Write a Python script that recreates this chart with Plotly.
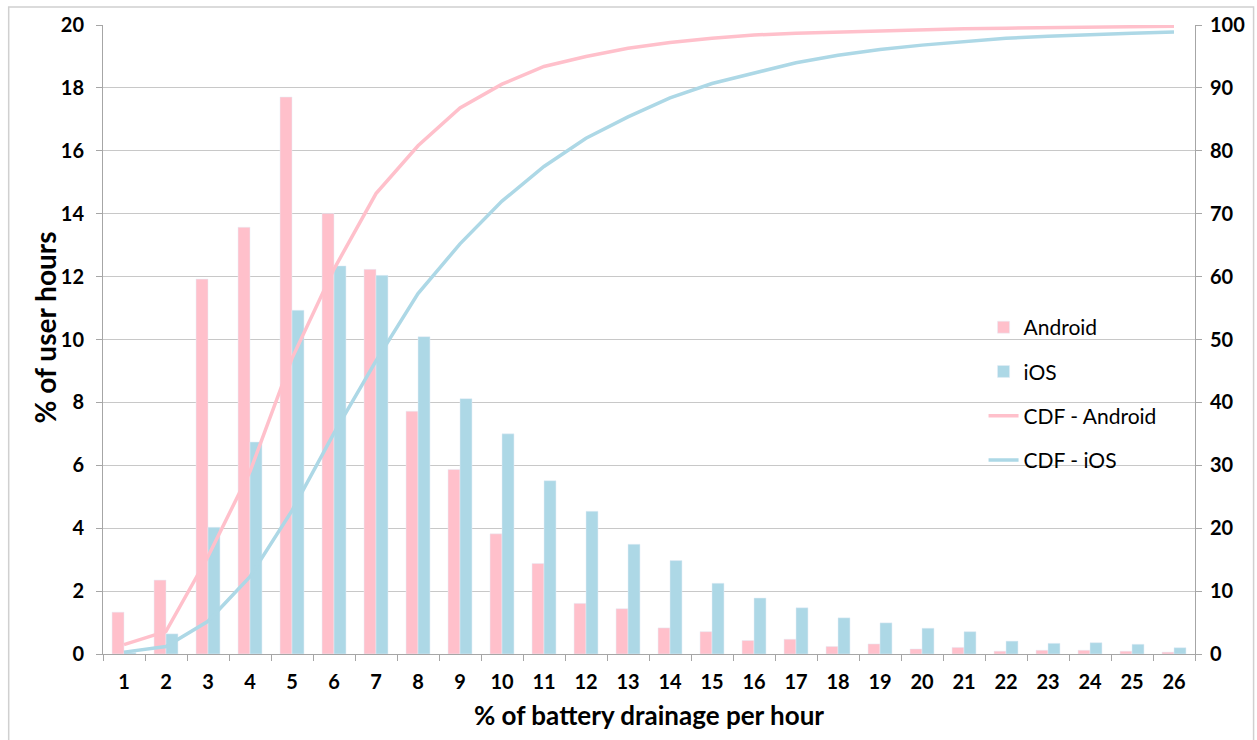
import plotly.graph_objects as go

categories = [str(i) for i in range(1, 27)]
android = [1.33, 2.35, 11.92, 13.57, 17.71, 14.01, 12.23, 7.72, 5.87, 3.82, 2.88, 1.61, 1.44,
           0.83, 0.71, 0.43, 0.47, 0.24, 0.32, 0.16, 0.21, 0.09, 0.12, 0.12, 0.09, 0.06]
ios = [0.05, 0.64, 4.03, 6.74, 10.93, 12.34, 12.04, 10.09, 8.12, 7.0, 5.51, 4.54, 3.49,
       2.97, 2.25, 1.78, 1.47, 1.15, 0.99, 0.82, 0.71, 0.41, 0.34, 0.36, 0.31, 0.20]
cdf_android = [1.5, 3.6, 15.5, 29.0, 47.0, 61.2, 73.2, 80.8, 86.8, 90.6, 93.4, 95.0, 96.3,
               97.2, 97.9, 98.4, 98.7, 98.9, 99.1, 99.2, 99.4, 99.5, 99.6, 99.7, 99.75, 99.8]
cdf_ios = [0.3, 1.2, 5.2, 12.3, 22.8, 35.1, 46.6, 57.3, 65.2, 72.0, 77.5, 82.0, 85.4,
           88.4, 90.7, 92.4, 94.0, 95.2, 96.1, 96.8, 97.4, 97.9, 98.2, 98.5, 98.7, 98.9]

PINK = "#FFC0CB"
BLUE = "#ADD8E6"
FONT = "Lato"

fig = go.Figure()
fig.add_trace(go.Bar(x=categories, y=android, name="Android", marker_color=PINK,
                     legendgroup="a"))
fig.add_trace(go.Bar(x=categories, y=ios, name="iOS", marker_color=BLUE,
                     legendgroup="b"))
fig.add_trace(go.Scatter(x=categories, y=cdf_android, name="CDF - Android", mode="lines",
                         line=dict(color=PINK, width=3.5), yaxis="y2", legendgroup="c"))
fig.add_trace(go.Scatter(x=categories, y=cdf_ios, name="CDF - iOS", mode="lines",
                         line=dict(color=BLUE, width=3.5), yaxis="y2", legendgroup="d"))

W, H = 1257, 740
L, R, T, B = 103, 1203, 25, 654

def px(x):
    return (x - L) / (R - L)

def py(y):
    return (B - y) / (B - T)

tickfont = dict(size=20, family=FONT, color="black", weight="bold")

fig.update_layout(
    width=W, height=H,
    margin=dict(l=L, r=W - R, t=T, b=H - B),
    paper_bgcolor="white", plot_bgcolor="white",
    font=dict(family=FONT, color="black"),
    barmode="group", bargap=0.43, bargroupgap=0,
    showlegend=True,
    legend=dict(x=px(990), y=py(307), xanchor="left", yanchor="top",
                font=dict(size=21, family=FONT, color="black"),
                bgcolor="rgba(0,0,0,0)", tracegroupgap=14,
                traceorder="grouped"),
    xaxis=dict(type="category", tickson="boundaries", ticks="outside", ticklen=6,
               tickcolor="#a6a6a6", showline=True, linecolor="#a6a6a6", linewidth=1,
               showgrid=False, ticklabelstandoff=10,
               tickfont=tickfont,
               title=dict(text="% of battery drainage per hour", standoff=14,
                          font=dict(size=26, family=FONT, color="black", weight="bold"))),
    yaxis=dict(range=[0, 20], dtick=2, ticks="outside", ticklen=6, tickcolor="#a6a6a6",
               showline=True, linecolor="#a6a6a6", linewidth=1,
               showgrid=True, gridcolor="#c8c8c8", gridwidth=1, zeroline=False,
               ticklabelstandoff=8,
               tickfont=tickfont),
    yaxis2=dict(range=[0, 100], dtick=10, overlaying="y", side="right",
                ticks="outside", ticklen=6, tickcolor="#a6a6a6",
                showline=True, linecolor="#a6a6a6", linewidth=1,
                showgrid=False, zeroline=False, ticklabelstandoff=4,
                tickfont=tickfont),
    annotations=[dict(text="% of user hours", xref="paper", yref="paper",
                      x=px(45), y=py(327), xanchor="center", yanchor="middle",
                      textangle=-90, showarrow=False,
                      font=dict(size=28, family=FONT, color="black", weight="bold"))],
    shapes=[dict(type="rect", xref="paper", yref="paper",
                 x0=px(8), x1=px(1262), y0=py(745), y1=py(7),
                 line=dict(color="#d0d0d0", width=1.5), fillcolor="rgba(0,0,0,0)",
                 layer="below")],
)

fig.write_html("out.html")
